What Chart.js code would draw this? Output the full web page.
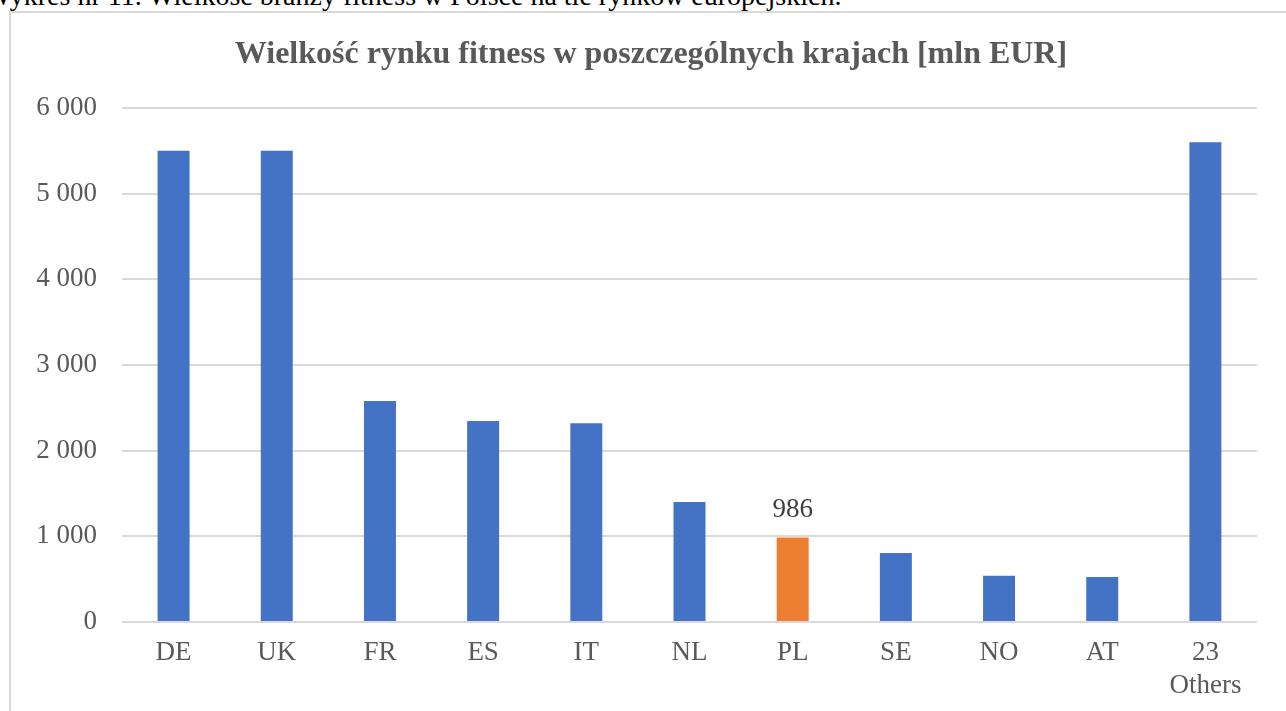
<!DOCTYPE html>
<html>
<head>
<meta charset="utf-8">
<script src="https://cdn.jsdelivr.net/npm/chart.js@4.4.1/dist/chart.umd.min.js"></script>
<style>
  html, body { margin:0; padding:0; width:1286px; height:711px; overflow:hidden; background:#fff; }
  #caption { position:absolute; left:-15px; top:-18px; font-family:"Liberation Serif","Times New Roman",serif; font-size:28px; line-height:28px; color:#000; white-space:nowrap; }
  #frame { position:absolute; left:9px; top:11px; width:1300px; height:720px; border:2px solid #d9d9d9; box-sizing:border-box; }
  #title { position:absolute; left:151px; width:1000px; top:37px; text-align:center; font-family:"Liberation Serif","Times New Roman",serif; font-weight:bold; font-size:32px; line-height:30px; color:#595959; white-space:nowrap; }
  #wrap { position:absolute; left:0; top:0; width:1286px; height:711px; }
</style>
</head>
<body>
<div id="caption">Wykres nr 11. Wielkość branży fitness w Polsce na tle rynków europejskich.</div>
<div id="frame"></div>
<div id="wrap"><canvas id="c"></canvas></div>
<div id="title"></div>
<script>
const chartTitle = "Wielkość rynku fitness w poszczególnych krajach [mln EUR]";
const categories = ["DE", "UK", "FR", "ES", "IT", "NL", "PL", "SE", "NO", "AT", ["23", "Others"]];
const marketValues = [5500, 5500, 2580, 2345, 2320, 1400, 986, 805, 540, 525, 5600];
const highlightCategory = "PL";
const yTickValues = [0, 1000, 2000, 3000, 4000, 5000, 6000];

document.getElementById("title").textContent = chartTitle;

const BLUE = "#4472C4", ORANGE = "#ED7D31";
const barColors = categories.map(c => c === highlightCategory ? ORANGE : BLUE);
const FONT = "'Liberation Serif', 'Times New Roman', serif";

function fmt(v) { return String(v).replace(/\B(?=(\d{3})+(?!\d))/g, " "); }

const labelPlugin = {
  id: "pointLabel",
  afterDatasetsDraw(chart) {
    const ctx = chart.ctx;
    const meta = chart.getDatasetMeta(0);
    const idx = categories.indexOf(highlightCategory);
    const bar = meta.data[idx];
    ctx.save();
    ctx.font = "27px " + FONT;
    ctx.fillStyle = "#404040";
    ctx.textAlign = "center";
    ctx.textBaseline = "middle";
    ctx.fillText(fmt(marketValues[idx]), bar.x, bar.y - 28);
    ctx.restore();
  }
};

new Chart(document.getElementById("c"), {
  type: "bar",
  data: {
    labels: categories,
    datasets: [{
      data: marketValues,
      backgroundColor: barColors,
      borderWidth: 0,
      categoryPercentage: 1,
      barPercentage: 0.31
    }]
  },
  options: {
    responsive: true,
    maintainAspectRatio: false,
    animation: false,
    layout: { padding: { left: 0, right: 29, top: 108, bottom: 0 } },
    plugins: {
      legend: { display: false },
      tooltip: { enabled: false },
      title: { display: false }
    },
    scales: {
      x: {
        grid: { display: false, drawTicks: false },
        border: { display: false },
        ticks: { color: "#595959", font: { family: FONT, size: 27 }, padding: 15, maxRotation: 0, autoSkip: false },
        afterFit(scale) { scale.height = 89; }
      },
      y: {
        min: 0, max: 6000,
        afterBuildTicks(scale) { scale.ticks = yTickValues.map(v => ({ value: v })); },
        grid: { color: "#d9d9d9", lineWidth: 2, drawTicks: false },
        border: { display: false },
        ticks: { color: "#595959", font: { family: FONT, size: 27 }, padding: 25, callback: v => fmt(v) },
        afterFit(scale) { scale.width = 122; }
      }
    }
  },
  plugins: [labelPlugin]
});
</script>
</body>
</html>
